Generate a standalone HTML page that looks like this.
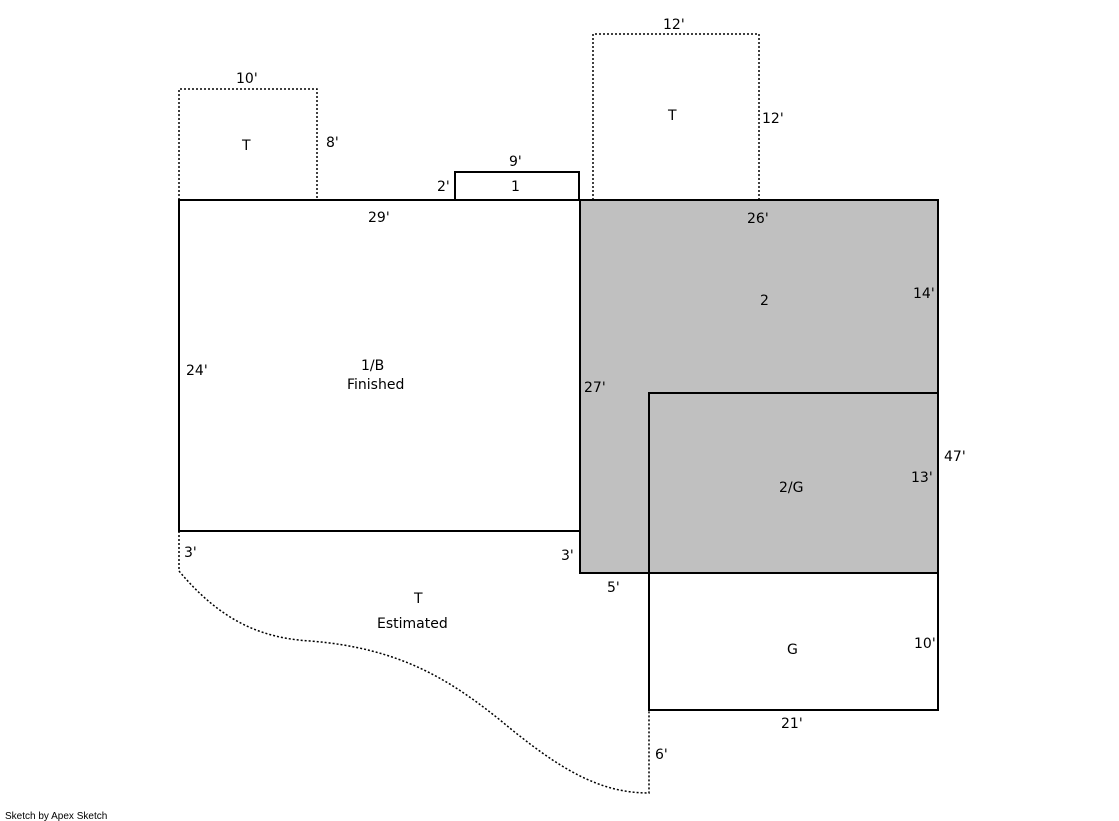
<!DOCTYPE html>
<html><head><meta charset="utf-8"><style>
html,body{margin:0;padding:0;background:#fff;}
svg{display:block;}
text{font-family:"DejaVu Sans","Liberation Sans",sans-serif;font-size:14px;fill:#000;}
</style></head><body>
<svg width="1119" height="821" viewBox="0 0 1119 821" xmlns="http://www.w3.org/2000/svg">
<!-- gray area -->
<rect x="580" y="200" width="358" height="373" fill="#c0c0c0" stroke="#000" stroke-width="2"/>
<rect x="649" y="393" width="289" height="180" fill="#c0c0c0" stroke="#000" stroke-width="2"/>
<!-- main left -->
<rect x="179" y="200" width="401" height="331" fill="#fff" stroke="#000" stroke-width="2"/>
<!-- small 1 -->
<rect x="455" y="172" width="124" height="28" fill="#fff" stroke="#000" stroke-width="2"/>
<!-- G -->
<rect x="649" y="573" width="289" height="137" fill="#fff" stroke="#000" stroke-width="2"/>
<!-- dotted -->
<g fill="none" stroke="#000" stroke-width="1.5" stroke-dasharray="2,2">
<polyline points="179,200 179,89 317,89 317,200"/>
<polyline points="593,200 593,34 759,34 759,200"/>
<path d="M179,531 L179,571 C220,620 260,638 310,641 C400,648 450,680 500,720 C560,770 600,793 649,793 L649,710"/>
</g>
<text x="236" y="83">10'</text>
<text x="242" y="150">T</text>
<text x="326" y="147">8'</text>
<text x="509" y="166">9'</text>
<text x="437" y="191">2'</text>
<text x="511" y="191">1</text>
<text x="663" y="29">12'</text>
<text x="668" y="120">T</text>
<text x="762" y="123">12'</text>
<text x="368" y="222">29'</text>
<text x="747" y="223">26'</text>
<text x="760" y="305">2</text>
<text x="913" y="298">14'</text>
<text x="186" y="375">24'</text>
<text x="361" y="370">1/B</text>
<text x="347" y="389">Finished</text>
<text x="584" y="392">27'</text>
<text x="944" y="461">47'</text>
<text x="911" y="482">13'</text>
<text x="779" y="492">2/G</text>
<text x="184" y="557">3'</text>
<text x="561" y="560">3'</text>
<text x="607" y="592">5'</text>
<text x="414" y="603">T</text>
<text x="377" y="628">Estimated</text>
<text x="787" y="654">G</text>
<text x="914" y="648">10'</text>
<text x="781" y="728">21'</text>
<text x="655" y="759">6'</text>
<text x="5" y="819" style="font-size:10px;font-family:'Liberation Sans',sans-serif">Sketch by Apex Sketch</text>
</svg>
</body></html>
